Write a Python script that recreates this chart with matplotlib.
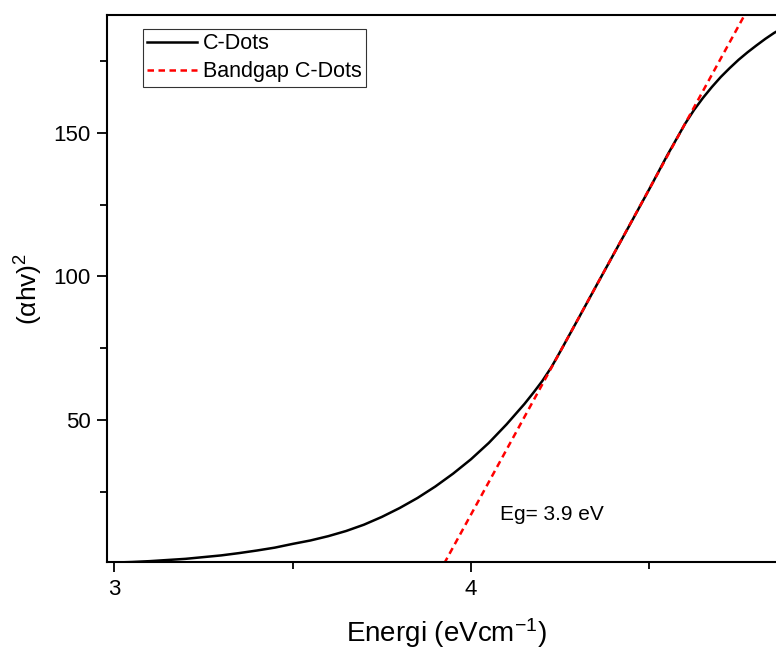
import matplotlib
matplotlib.use("Agg")
import matplotlib.pyplot as plt
from matplotlib.ticker import FixedLocator

plt.rcParams['font.family'] = ['Liberation Sans', 'DejaVu Sans']
plt.rcParams['mathtext.fontset'] = 'custom'
plt.rcParams['mathtext.rm'] = 'Liberation Sans'
plt.rcParams['mathtext.it'] = 'Liberation Sans:italic'
plt.rcParams['mathtext.default'] = 'regular'

# C-Dots curve
energy = [3.00, 3.05, 3.10, 3.15, 3.20, 3.25, 3.30, 3.35, 3.40, 3.45, 3.50,
          3.55, 3.60, 3.65, 3.70, 3.75, 3.80, 3.85, 3.90, 3.95, 4.00, 4.05,
          4.10, 4.15, 4.175, 4.20, 4.225, 4.25, 4.30, 4.35, 4.40, 4.45, 4.50,
          4.55, 4.60, 4.625, 4.65, 4.675, 4.70, 4.725, 4.75, 4.775, 4.80,
          4.825, 4.85, 4.875, 4.90]
ahv2 = [0.3, 0.5, 0.8, 1.2, 1.6, 2.2, 2.8, 3.6, 4.5, 5.5, 6.8,
        8.0, 9.5, 11.3, 13.5, 16.2, 19.3, 22.8, 26.8, 31.3, 36.3, 42.0,
        48.5, 55.6, 59.5, 63.6, 68.3, 73.8, 85.1, 96.5, 107.8, 119.1, 130.5,
        142.2, 153.2, 158.0, 162.2, 166.0, 169.5, 172.6, 175.5, 178.1, 180.5,
        182.8, 184.9, 186.6, 188.0]

# Bandgap fit line
fit_x = [3.925, 4.765]
fit_y = [0.0, 190.7]

x_ticks = [3, 4]
x_minor = [3.5, 4.5]
y_ticks = [50, 100, 150]
y_minor = [25, 75, 125, 175]

fig = plt.figure(figsize=(7.76, 6.49), dpi=100)
ax = fig.add_axes([107/776, 1-562/649, (785-107)/776, (562-15)/649])

ax.plot(energy, ahv2, color='black', lw=1.8, label='C-Dots')
ax.plot(fit_x, fit_y, color='red', lw=1.8, dashes=(2.6, 1.8), label='Bandgap C-Dots')

ax.set_xlim(2.98, 4.88)
ax.set_ylim(0.5, 191.1)
ax.xaxis.set_major_locator(FixedLocator(x_ticks))
ax.xaxis.set_minor_locator(FixedLocator(x_minor))
ax.yaxis.set_major_locator(FixedLocator(y_ticks))
ax.yaxis.set_minor_locator(FixedLocator(y_minor))

ax.tick_params(which='major', direction='out', length=7, width=1.3, labelsize=16, pad=5)
ax.tick_params(which='minor', direction='out', length=5, width=1.3)
for s in ax.spines.values():
    s.set_linewidth(1.5)

ax.set_xlabel('Energi (eVcm$^{-1}$)', fontsize=20, labelpad=12)
ax.set_ylabel('(αhv)$^{2}$', fontsize=19, labelpad=6)

ax.text(4.081, 16.9, 'Eg= 3.9 eV', fontsize=15, ha='left', va='center')

leg = ax.legend(loc='upper left', bbox_to_anchor=(143/776, 1-29/649),
                bbox_transform=fig.transFigure, borderaxespad=0,
                fontsize=15.5, frameon=True, fancybox=False, edgecolor='black',
                handlelength=2.3, handletextpad=0.3, labelspacing=0.33,
                borderpad=0.2)
leg.get_frame().set_linewidth(0.8)

fig.savefig('out.png', dpi=100)
